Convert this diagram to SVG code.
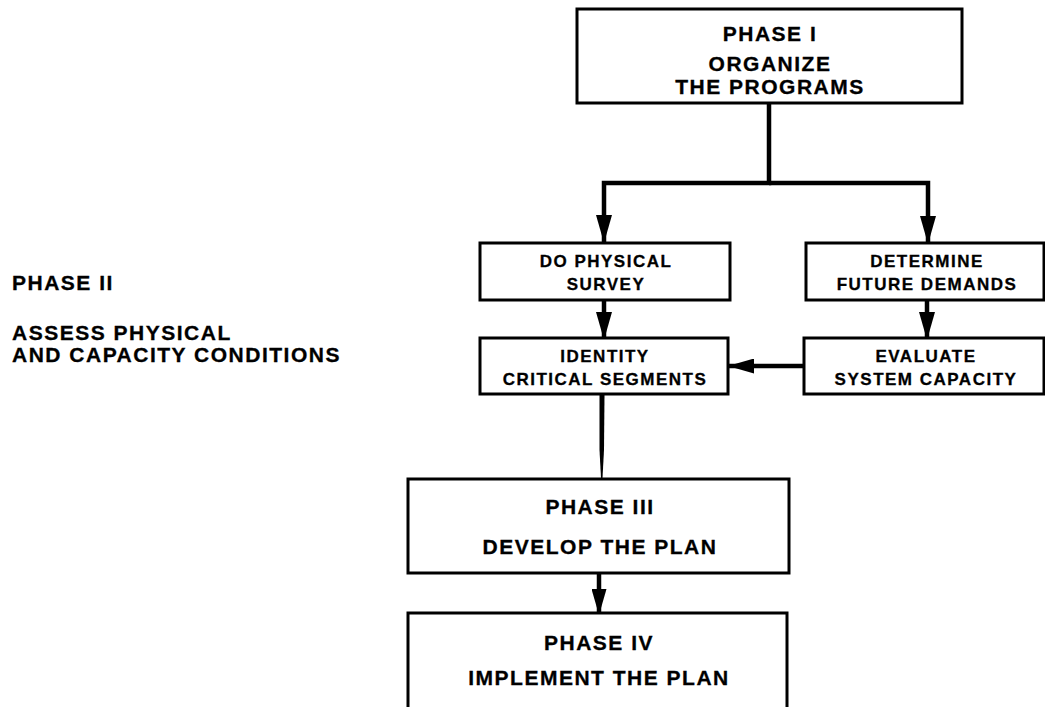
<svg xmlns="http://www.w3.org/2000/svg" width="1045" height="707" viewBox="0 0 1045 707">
  <defs>
    <marker id="arrow" markerUnits="userSpaceOnUse" markerWidth="28" markerHeight="16" refX="27" refY="8" orient="auto" viewBox="0 0 28 16">
      <path d="M0,0 L28,8 L0,16 Z" fill="#000"/>
    </marker>
    <marker id="arrow-s" markerUnits="userSpaceOnUse" markerWidth="26" markerHeight="15" refX="25" refY="7.5" orient="auto" viewBox="0 0 26 15">
      <path d="M0,0 L26,7.5 L0,15 Z" fill="#000"/>
    </marker>
  </defs>
  <style>
    .box { fill: #fff; stroke: #000; stroke-width: 3; }
    .link { fill: none; stroke: #000; stroke-width: 4.5; stroke-linejoin: miter; }
    text { font-family: "Liberation Sans", Arial, Helvetica, sans-serif; font-weight: bold; fill: #000; letter-spacing: 1.5px; stroke: #000; stroke-width: 0.3; }
    .big { font-size: 21px; }
    .small { font-size: 17px; }
    .c { text-anchor: middle; }
  </style>
  <rect width="1045" height="707" fill="#fff"/>

  <!-- connectors -->
  <g id="connectors">
    <path class="link" d="M769,103 V183 H604 V242" marker-end="url(#arrow)"/>
    <path class="link" d="M769,183 H928 V243" marker-end="url(#arrow)"/>
    <path class="link" d="M604,300 V339" marker-end="url(#arrow)"/>
    <path class="link" d="M927,300 V339" marker-end="url(#arrow)"/>
    <path class="link" d="M804,366 H729" marker-end="url(#arrow-s)"/>
    <!-- thick stroke that narrows toward Phase III -->
    <path d="M599.5,395 L604.5,395 L604,450 L602.5,478 L601,478 L599.5,450 Z" fill="#000"/>
    <path class="link" d="M599,573 V614" marker-end="url(#arrow-s)"/>
  </g>

  <g id="phase1">
    <rect class="box" x="577" y="9" width="385" height="94"/>
    <text class="big c" x="770" y="41">PHASE I</text>
    <text class="big c" x="770" y="71">ORGANIZE</text>
    <text class="big c" x="770" y="94">THE PROGRAMS</text>
  </g>

  <g id="phase2-label">
    <text class="big" x="12" y="290">PHASE II</text>
    <text class="big" x="12" y="340">ASSESS PHYSICAL</text>
    <text class="big" x="12" y="362">AND CAPACITY CONDITIONS</text>
  </g>

  <g id="physical-survey">
    <rect class="box" x="480" y="243" width="250" height="57"/>
    <text class="small c" x="606" y="267">DO PHYSICAL</text>
    <text class="small c" x="606" y="290">SURVEY</text>
  </g>

  <g id="future-demands">
    <rect class="box" x="806" y="243" width="238" height="57"/>
    <text class="small c" x="927" y="267">DETERMINE</text>
    <text class="small c" x="927" y="290">FUTURE DEMANDS</text>
  </g>

  <g id="critical-segments">
    <rect class="box" x="480" y="338" width="248" height="56"/>
    <text class="small c" x="605" y="362">IDENTITY</text>
    <text class="small c" x="605" y="385">CRITICAL SEGMENTS</text>
  </g>

  <g id="system-capacity">
    <rect class="box" x="804" y="338" width="240" height="56"/>
    <text class="small c" x="926" y="362">EVALUATE</text>
    <text class="small c" x="926" y="385">SYSTEM CAPACITY</text>
  </g>

  <g id="phase3">
    <rect class="box" x="408" y="479" width="381" height="94"/>
    <text class="big c" x="600" y="514">PHASE III</text>
    <text class="big c" x="600" y="554">DEVELOP THE PLAN</text>
  </g>

  <g id="phase4">
    <rect class="box" x="408" y="613" width="379" height="110"/>
    <text class="big c" x="599" y="650">PHASE IV</text>
    <text class="big c" x="599" y="685">IMPLEMENT THE PLAN</text>
  </g>
</svg>
